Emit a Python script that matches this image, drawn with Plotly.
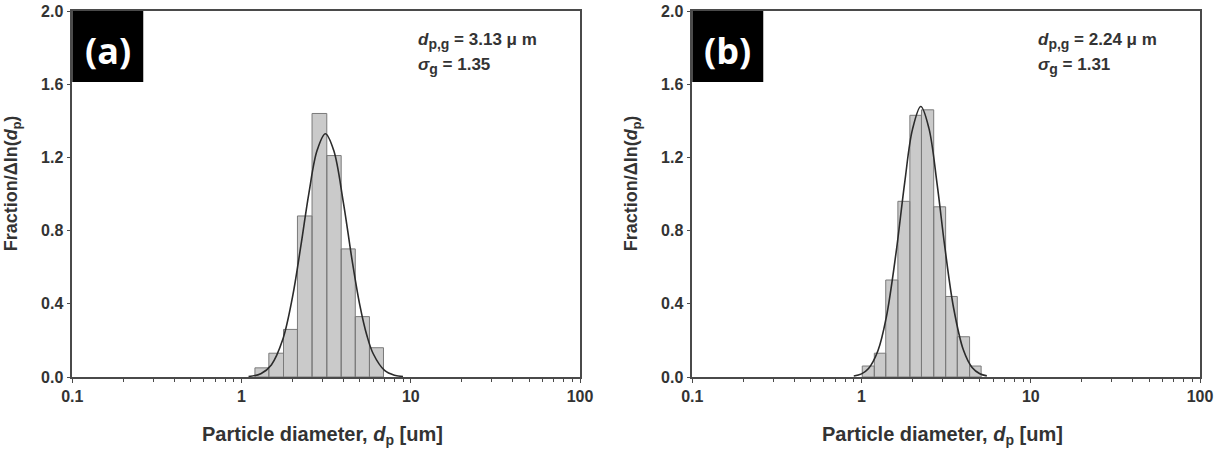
import plotly.graph_objects as go

# ---------------- data ----------------
# panel (a)
edges_a = [1.20, 1.45, 1.77, 2.14, 2.61, 3.19, 3.88, 4.70, 5.70, 6.90]
heights_a = [0.05, 0.13, 0.26, 0.88, 1.44, 1.21, 0.70, 0.33, 0.16]
curve_x_a = [1.1, 1.3, 1.5, 1.75, 2.0, 2.25, 2.5, 2.8, 3.13, 3.5, 4.0, 4.5, 5.0, 5.5, 6.0, 7.0, 8.0, 9.0]
curve_y_a = [0.003, 0.018, 0.066, 0.203, 0.436, 0.726, 1.004, 1.240, 1.329, 1.240, 0.952, 0.639, 0.393, 0.228, 0.127, 0.036, 0.010, 0.003]
label_a = "(a)"
dpg_a = "3.13"
sg_a = "1.35"

# panel (b)
edges_b = [1.01, 1.19, 1.39, 1.64, 1.93, 2.26, 2.67, 3.14, 3.68, 4.35, 5.09]
heights_b = [0.06, 0.13, 0.53, 0.96, 1.43, 1.46, 0.93, 0.44, 0.22, 0.06]
curve_x_b = [0.9, 1.0, 1.1, 1.25, 1.4, 1.6, 1.8, 2.0, 2.24, 2.5, 2.8, 3.1, 3.5, 4.0, 4.5, 5.0, 5.5]
curve_y_b = [0.005, 0.017, 0.046, 0.143, 0.325, 0.680, 1.064, 1.353, 1.478, 1.360, 1.050, 0.716, 0.377, 0.147, 0.052, 0.018, 0.006]
label_b = "(b)"
dpg_b = "2.24"
sg_b = "1.31"

x_tickvals = [0.1, 1, 10, 100]
x_ticktext = ["0.1", "1", "10", "100"]
y_tickvals = [0.0, 0.4, 0.8, 1.2, 1.6, 2.0]

# ---------------- styles ----------------
W, H = 1218, 450
FONT = "Liberation Sans, Arial, sans-serif"
TXT = "#333333"
AXC = "#4a4a4a"
BAR_FILL = "#cacaca"
BAR_LINE = "#7a7a7a"
CURVE = "#2b2b2b"

dom_a = [72.3 / W, 580.0 / W]
dom_b = [692.3 / W, 1200.0 / W]
dom_y = [(H - 377) / H, (H - 11) / H]

fig = go.Figure()


def bar_polygon(edges, heights):
    xs, ys = [], []
    for i, h in enumerate(heights):
        e0, e1 = edges[i], edges[i + 1]
        xs += [e0, e0, e1, e1, e0, None]
        ys += [0, h, h, 0, 0, None]
    return xs, ys


for (edges, heights, cx, cy, xa, ya) in [
    (edges_a, heights_a, curve_x_a, curve_y_a, "x", "y"),
    (edges_b, heights_b, curve_x_b, curve_y_b, "x2", "y2"),
]:
    bx, by = bar_polygon(edges, heights)
    fig.add_trace(go.Scatter(x=bx, y=by, mode="lines", fill="toself",
                             fillcolor=BAR_FILL, line=dict(color=BAR_LINE, width=1),
                             xaxis=xa, yaxis=ya, hoverinfo="skip", showlegend=False))
    fig.add_trace(go.Scatter(x=cx, y=cy, mode="lines", line=dict(color=CURVE, width=1.6, shape="spline"),
                             xaxis=xa, yaxis=ya, showlegend=False))

tickfont = dict(family=FONT, size=16, color=TXT, weight="bold")
xaxis_common = dict(
    type="log", range=[-1, 2], tickvals=x_tickvals, ticktext=x_ticktext,
    showline=True, linecolor=AXC, linewidth=1.5, mirror=True,
    ticks="outside", ticklen=4, tickwidth=1, tickcolor=AXC,
    showgrid=False, zeroline=False, automargin=False,
    tickfont=tickfont,
    minor=dict(ticks="outside", ticklen=3, tickwidth=1, tickcolor=AXC, showgrid=False,
               tickvals=[m * 10 ** k for k in (-1, 0, 1) for m in range(2, 10)]),
)
yaxis_common = dict(
    range=[0, 2], tickvals=y_tickvals, tickformat=".1f",
    showline=True, linecolor=AXC, linewidth=1.5, mirror=True,
    ticks="outside", ticklen=4, tickwidth=1, tickcolor=AXC,
    showgrid=False, zeroline=False, automargin=False,
    tickfont=tickfont,
    domain=dom_y,
)

fig.update_layout(
    width=W, height=H, margin=dict(l=0, r=0, t=0, b=0, autoexpand=False),
    paper_bgcolor="white", plot_bgcolor="white",
    xaxis=dict(domain=dom_a, anchor="y", **xaxis_common),
    yaxis=dict(anchor="x", **yaxis_common),
    xaxis2=dict(domain=dom_b, anchor="y2", **xaxis_common),
    yaxis2=dict(anchor="x2", **yaxis_common),
    font=dict(family=FONT, color=TXT),
)

annotations = []
shapes = []
for (lab, dpg, sg, xa, ya, dom) in [
    (label_a, dpg_a, sg_a, "x", "y", dom_a),
    (label_b, dpg_b, sg_b, "x2", "y2", dom_b),
]:
    # black label box
    shapes.append(dict(type="rect", xref=f"{xa} domain", yref=f"{ya} domain",
                       x0=0, x1=71 / 508, y0=1 - 71 / 366, y1=1,
                       fillcolor="black", line=dict(width=0), layer="above"))
    annotations.append(dict(xref=f"{xa} domain", yref=f"{ya} domain",
                            x=35.5 / 508, y=1 - 39 / 366, text=f"<b>{lab}</b>",
                            showarrow=False, xanchor="center", yanchor="middle",
                            font=dict(family="Open Sans, sans-serif", size=36, color="white")))
    # parameter text
    annotations.append(dict(xref=f"{xa} domain", yref=f"{ya} domain",
                            x=344 / 508, y=1 - 30 / 366, xanchor="left", yanchor="middle",
                            text=f"<b><i>d</i><sub><span style='font-size:14px'>p,g</span></sub> = {dpg} \u03bc m</b>",
                            showarrow=False,
                            font=dict(family=FONT, size=17, color=TXT)))
    annotations.append(dict(xref=f"{xa} domain", yref=f"{ya} domain",
                            x=344 / 508, y=1 - 55 / 366, xanchor="left", yanchor="middle",
                            text=f"<b><i>\u03c3</i><sub><span style='font-size:14px'>g</span></sub> = {sg}</b>",
                            showarrow=False,
                            font=dict(family=FONT, size=17, color=TXT)))
    # x title
    annotations.append(dict(xref="paper", yref="paper", x=(dom[0] + dom[1]) / 2 - 4 / W, y=(H - 435) / H,
                            xanchor="center", yanchor="middle", showarrow=False,
                            text="<b>Particle diameter, <i>d</i><sub>p</sub> [um]</b>",
                            font=dict(family=FONT, size=20, color=TXT)))
    # y title
    annotations.append(dict(xref="paper", yref="paper", x=dom[0] - 59 / W, y=(H - 183) / H,
                            xanchor="center", yanchor="middle", showarrow=False, textangle=-90,
                            text="<b>Fraction/\u0394ln(<i>d</i><sub>p</sub>)</b>",
                            font=dict(family=FONT, size=18, color=TXT)))

fig.update_layout(annotations=annotations, shapes=shapes)
fig.write_html("out.html")
